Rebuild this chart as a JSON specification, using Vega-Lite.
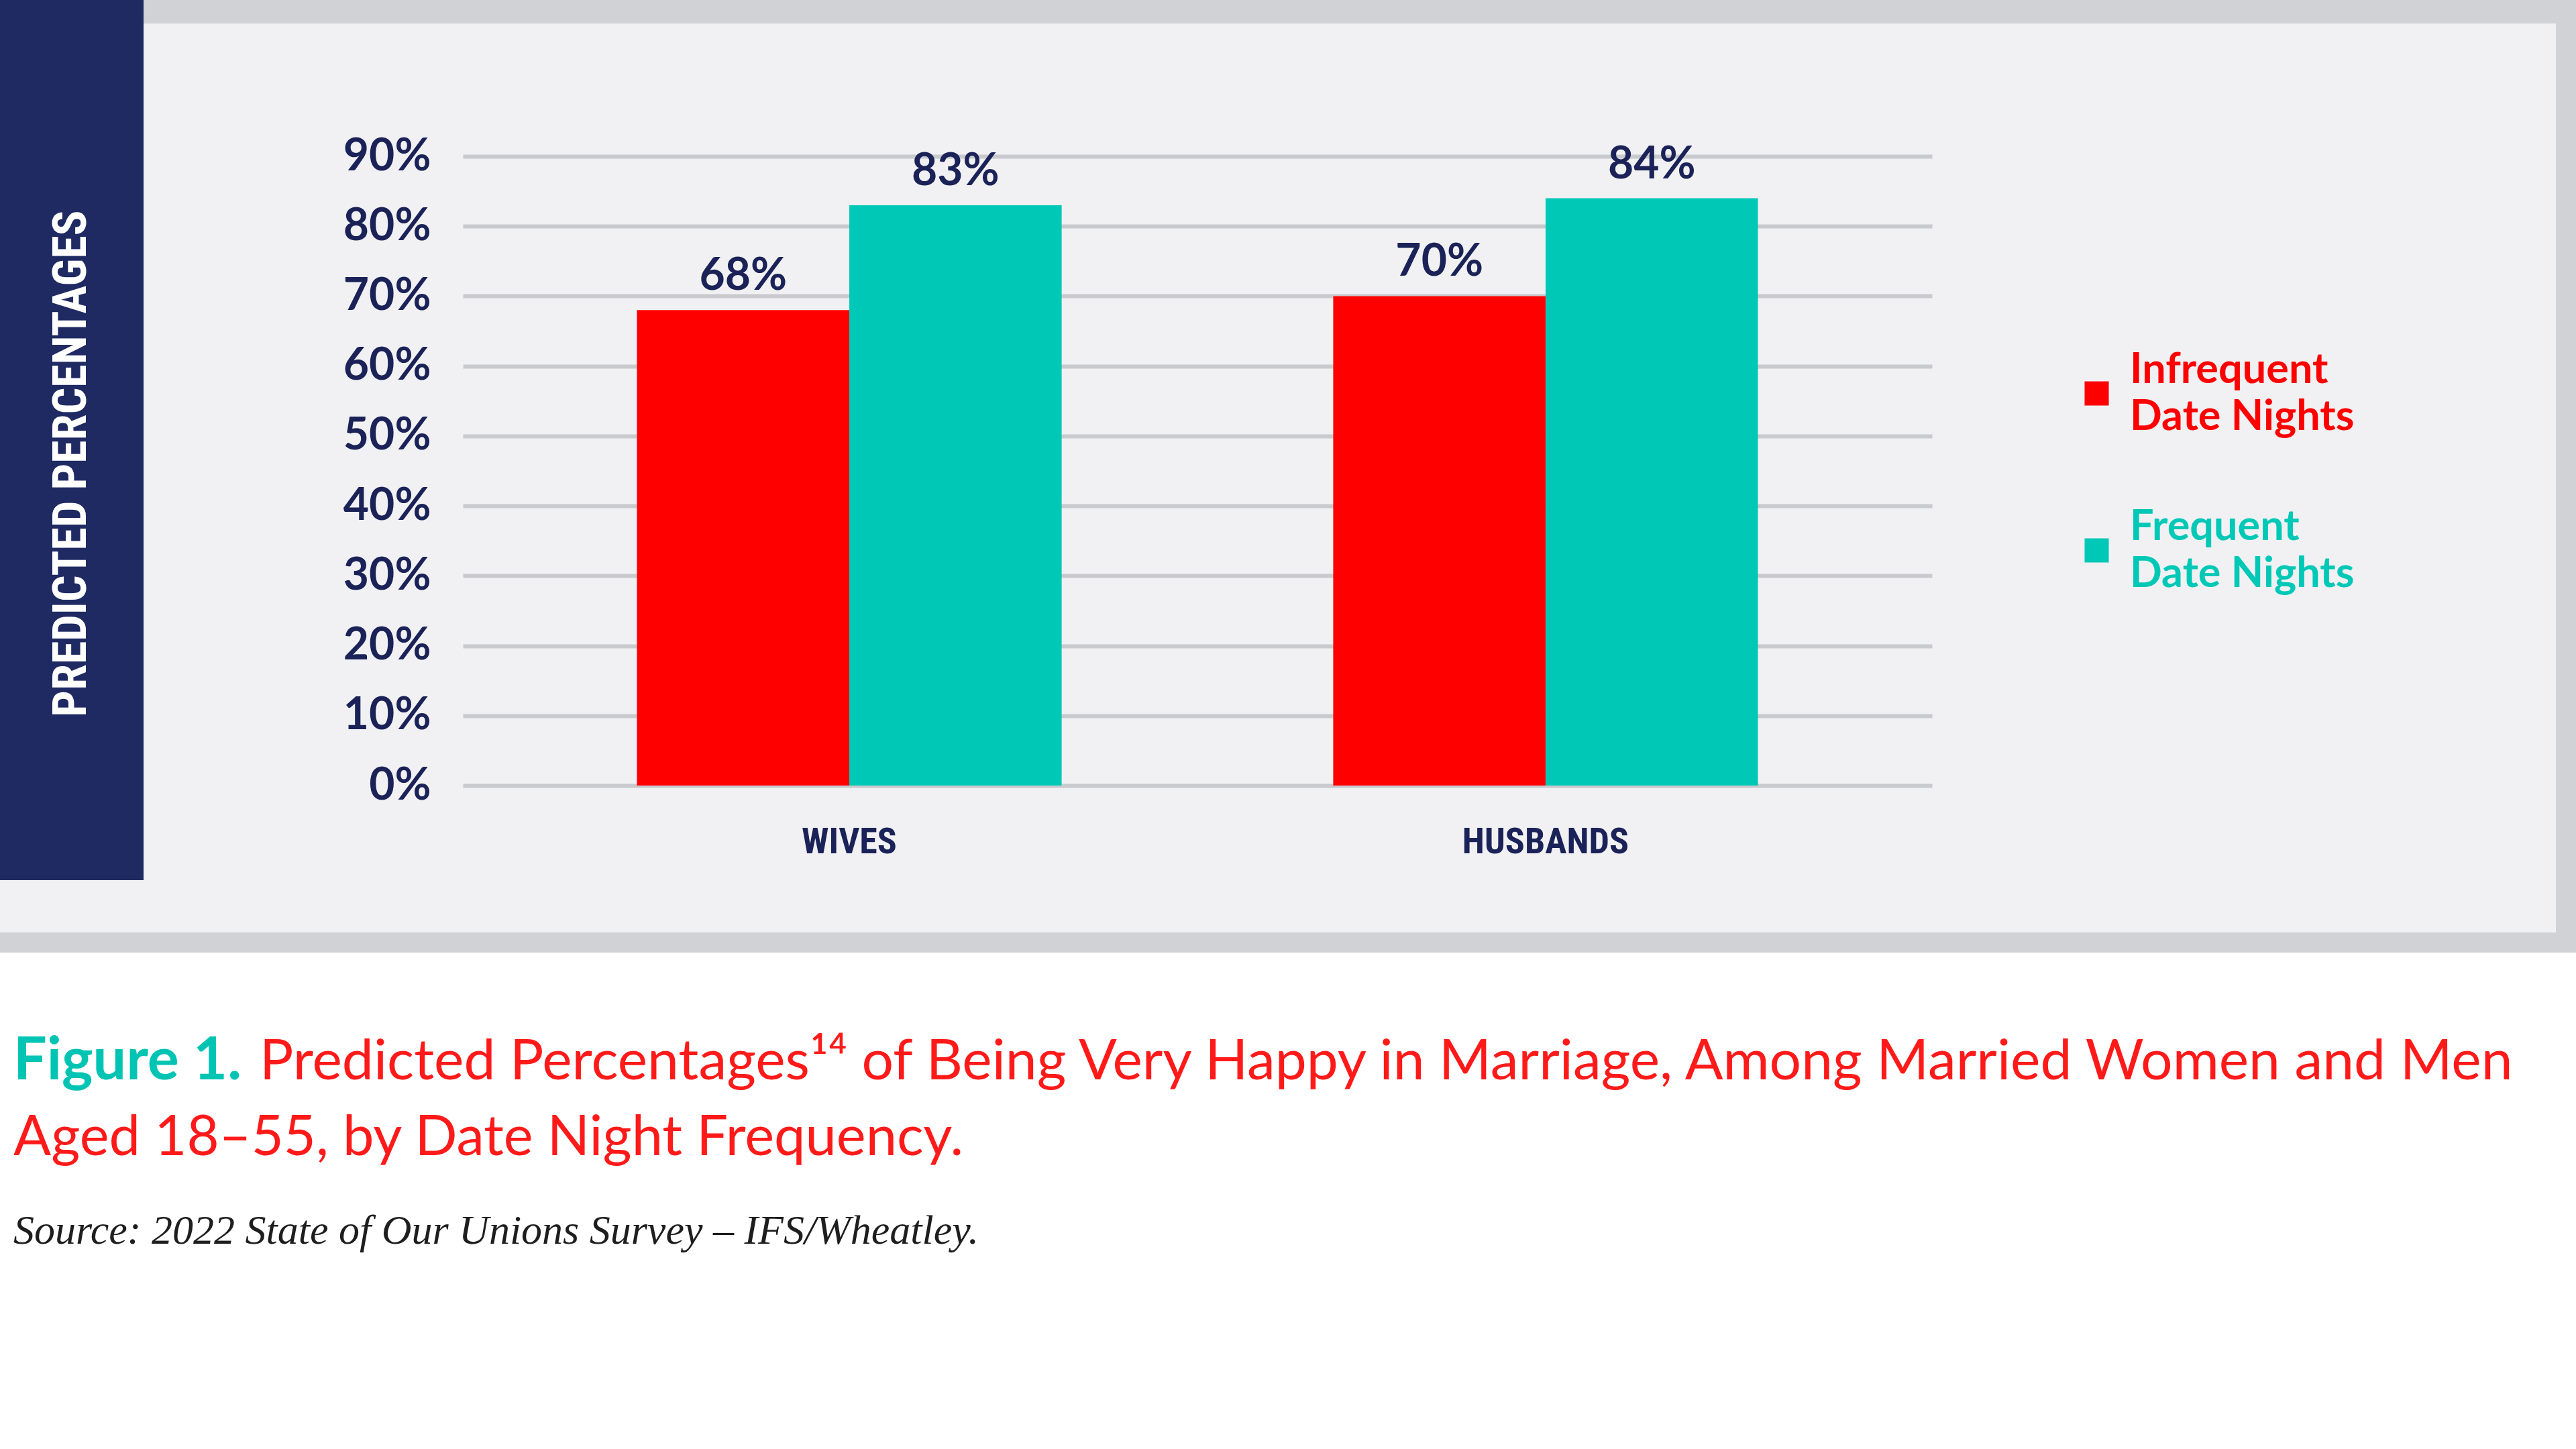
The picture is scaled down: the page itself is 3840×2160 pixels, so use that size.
{
  "$schema": "https://vega.github.io/schema/vega-lite/v6.json",
  "background": "#d1d2d5",
  "padding": 0,
  "config": {"view": {"stroke": null}, "concat": {"spacing": 0}},
  "spacing": 30,
  "vconcat": [
    {
      "spacing": 0,
      "hconcat": [
        {
          "spacing": 0,
          "vconcat": [
            {
              "width": 214,
              "height": 1312,
              "view": {"fill": "#1f2a63", "stroke": null},
              "data": {"values": [{"t": "PREDICTED PERCENTAGES"}]},
              "mark": {"type": "text", "angle": 270, "color": "#ffffff", "font": "Roboto Condensed, Liberation Sans Narrow, DejaVu Sans Condensed, Roboto", "fontSize": 70, "fontWeight": "bold", "align": "center", "baseline": "middle", "dx": -35},
              "encoding": {"text": {"field": "t"}}
            },
            {
              "width": 214,
              "height": 78,
              "view": {"fill": "#f1f1f3", "stroke": null},
              "data": {"values": []},
              "mark": "rect",
              "encoding": {}
            }
          ]
        },
        {
          "spacing": 0,
          "vconcat": [
            {
              "width": 10,
              "height": 35,
              "view": {"fill": null, "stroke": null},
              "data": {"values": []},
              "mark": "rect",
              "encoding": {}
            },
            {
              "width": 3596,
              "height": 1355,
              "view": {"fill": "#f1f1f3", "stroke": null},
              "data": {"values": [
                {"group": "WIVES", "series": "Infrequent Date Nights", "value": 0.68},
                {"group": "WIVES", "series": "Frequent Date Nights", "value": 0.83},
                {"group": "HUSBANDS", "series": "Infrequent Date Nights", "value": 0.70},
                {"group": "HUSBANDS", "series": "Frequent Date Nights", "value": 0.84}
              ]},
              "encoding": {
                "x": {
                  "field": "group", "type": "nominal", "sort": ["WIVES", "HUSBANDS"], "title": null,
                  "scale": {"range": [476, 2666], "paddingInner": 0.39, "paddingOuter": 0.25},
                  "axis": {"offset": -219, "domain": false, "ticks": false, "grid": false, "labelAngle": 0, "labelPadding": 100, "labelBaseline": "alphabetic", "labelLimit": 0, "labelFont": "Roboto Condensed, Liberation Sans Narrow, DejaVu Sans Condensed, Roboto", "labelFontWeight": "bold", "labelFontSize": 54, "labelColor": "#1a2257"}
                },
                "xOffset": {
                  "field": "series", "type": "nominal", "sort": ["Infrequent Date Nights", "Frequent Date Nights"],
                  "scale": {"paddingInner": 0, "paddingOuter": 0}
                },
                "y": {
                  "field": "value", "type": "quantitative", "title": null,
                  "scale": {"domain": [0, 0.9], "range": [1136, 198], "nice": false},
                  "axis": {"values": [0, 0.1, 0.2, 0.3, 0.4, 0.5, 0.6, 0.7, 0.8, 0.9], "format": ".0%", "offset": -476, "domain": false, "ticks": false, "labelPadding": 48, "labelFont": "Lato", "labelFontWeight": "bold", "labelFontSize": 66, "labelColor": "#1a2257", "grid": true, "gridColor": "#c9cacd", "gridWidth": 6}
                }
              },
              "layer": [
                {
                  "mark": {"type": "bar"},
                  "encoding": {
                    "color": {
                      "field": "series", "type": "nominal",
                      "scale": {"domain": ["Infrequent Date Nights", "Frequent Date Nights"], "range": ["#ff0000", "#00c8b6"]},
                      "legend": {
                        "orient": "none", "legendX": 3094, "legendY": 555, "title": null, "padding": 0,
                        "symbolType": "square", "symbolSize": 1300, "symbolStrokeWidth": 0, "symbolOpacity": 1,
                        "labelFont": "Lato", "labelFontSize": 63, "labelFontWeight": "bold", "labelOffset": 18, "labelLimit": 2000,
                        "rowPadding": 100,
                        "labelExpr": "[replace(datum.label, ' Date Nights', ''), 'Date Nights']",
                        "encoding": {"labels": {
                          "fill": {"condition": {"test": "datum.value == 'Frequent Date Nights'", "value": "#00c8b6"}, "value": "#ff0000"},
                          "lineHeight": {"value": 70},
                          "dy": {"value": -35}
                        }}
                      }
                    }
                  }
                },
                {
                  "mark": {"type": "text", "baseline": "alphabetic", "dy": -30, "font": "Lato", "fontWeight": "bold", "fontSize": 66, "color": "#1a2257"},
                  "encoding": {"text": {"field": "value", "type": "quantitative", "format": ".0%"}}
                }
              ]
            }
          ]
        }
      ]
    },
    {
      "width": 3840,
      "height": 740,
      "view": {"fill": "#ffffff", "stroke": null},
      "layer": [
        {
          "data": {"values": [{"t": "Figure 1."}]},
          "mark": {"type": "text", "align": "left", "baseline": "alphabetic", "dx": -1900, "dy": -181, "font": "Lato", "fontWeight": "bold", "fontSize": 88, "color": "#00c4b3"},
          "encoding": {"text": {"field": "t"}}
        },
        {
          "data": {"values": [{"t": "Predicted Percentages¹⁴ of Being Very Happy in Marriage, Among Married Women and Men"}]},
          "mark": {"type": "text", "align": "left", "baseline": "alphabetic", "dx": -1533, "dy": -181, "font": "Lato", "fontSize": 84, "color": "#ff1a1a"},
          "encoding": {"text": {"field": "t"}}
        },
        {
          "data": {"values": [{"t": "Aged 18–55, by Date Night Frequency."}]},
          "mark": {"type": "text", "align": "left", "baseline": "alphabetic", "dx": -1900, "dy": -68, "font": "Lato", "fontSize": 83, "color": "#ff1a1a"},
          "encoding": {"text": {"field": "t"}}
        },
        {
          "data": {"values": [{"t": "Source: 2022 State of Our Unions Survey – IFS/Wheatley."}]},
          "mark": {"type": "text", "align": "left", "baseline": "alphabetic", "dx": -1900, "dy": 64, "font": "Liberation Serif", "fontStyle": "italic", "fontSize": 62, "color": "#1e1e1e"},
          "encoding": {"text": {"field": "t"}}
        }
      ]
    }
  ]
}
